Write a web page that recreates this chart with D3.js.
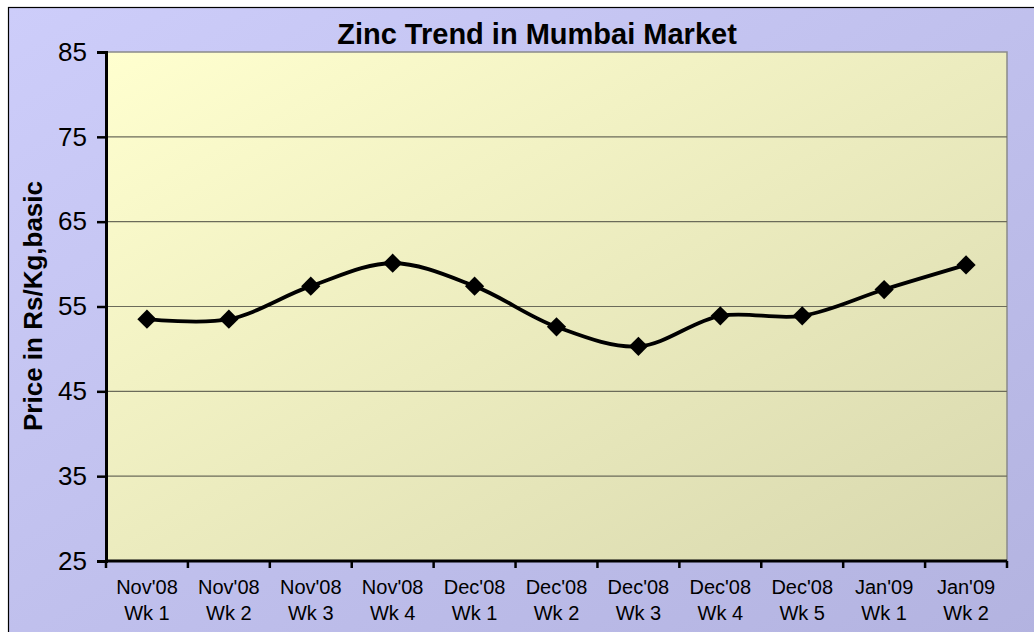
<!DOCTYPE html>
<html>
<head>
<meta charset="utf-8">
<script src="https://cdn.jsdelivr.net/npm/d3@7"></script>
<style>
  body { margin: 0; background: #fff; }
  svg { display: block; font-family: "Liberation Sans", Arial, sans-serif; }
</style>
</head>
<body>
<svg id="chart"></svg>
<script>
const months = ["Nov'08", "Nov'08", "Nov'08", "Nov'08", "Dec'08", "Dec'08", "Dec'08", "Dec'08", "Dec'08", "Jan'09", "Jan'09"]
const weeks = ["Wk 1", "Wk 2", "Wk 3", "Wk 4", "Wk 1", "Wk 2", "Wk 3", "Wk 4", "Wk 5", "Wk 1", "Wk 2"]
const prices = [53.5, 53.5, 57.4, 60.1, 57.4, 52.6, 50.3, 53.9, 53.9, 57.0, 59.9]
const yTicks = [25, 35, 45, 55, 65, 75, 85]

const W = 1034, H = 632
const margin = {top: 52, right: 27, bottom: 71, left: 106}
const width = W - margin.left - margin.right
const height = H - margin.top - margin.bottom

const data = prices.map((p, i) => ({i, p}))

const svg = d3.select('#chart').attr('width', W).attr('height', H)

const defs = svg.append('defs')
const bg = defs.append('linearGradient').attr('id', 'bg')
    .attr('x1', '0%').attr('y1', '0%').attr('x2', '100%').attr('y2', '100%')
bg.append('stop').attr('offset', '0%').attr('stop-color', '#cdcdfa')
bg.append('stop').attr('offset', '100%').attr('stop-color', '#b3b3e0')

const pg = defs.append('linearGradient').attr('id', 'plotbg')
    .attr('x1', '0%').attr('y1', '0%').attr('x2', '100%').attr('y2', '100%')
pg.append('stop').attr('offset', '0%').attr('stop-color', '#ffffcf')
pg.append('stop').attr('offset', '100%').attr('stop-color', '#d8d8ae')

// outer chart area
svg.append('rect')
    .attr('x', 8.5).attr('y', 7.5)
    .attr('width', W).attr('height', H)
    .attr('fill', 'url(#bg)')
    .attr('stroke', '#000').attr('stroke-width', 1.2)

const chart = svg.append('g')
    .attr('transform', `translate(${margin.left},${margin.top})`)

const xScale = d3.scaleBand()
    .domain(d3.range(prices.length))
    .range([0, width])

const yScale = d3.scaleLinear()
    .domain([25, 85])
    .range([height, 0])

chart.append('rect')
    .attr('width', width).attr('height', height)
    .attr('fill', 'url(#plotbg)')
    .attr('stroke', '#8a8a8a').attr('stroke-width', 1.5)

// gridlines
chart.append('g')
    .selectAll('line')
    .data(yTicks.slice(1, -1))
    .join('line')
    .attr('x1', 0).attr('x2', width)
    .attr('y1', d => yScale(d)).attr('y2', d => yScale(d))
    .attr('stroke', '#6b6b5a').attr('stroke-width', 1.2)

// y axis
const yAxis = d3.axisLeft(yScale).tickValues(yTicks).tickSize(9).tickPadding(10)
const yAxisG = chart.append('g').call(yAxis)
yAxisG.select('.domain').attr('stroke', '#000').attr('stroke-width', 3)
yAxisG.selectAll('.tick line').attr('stroke', '#000').attr('stroke-width', 2.5)
yAxisG.selectAll('.tick text')
    .attr('font-size', 26).attr('fill', '#000')
    .attr('font-family', '"Liberation Sans", Arial, sans-serif')

// x axis with ticks at band boundaries
const xAxisG = chart.append('g').attr('transform', `translate(0,${height})`)
xAxisG.append('line')
    .attr('x1', 0).attr('x2', width)
    .attr('stroke', '#000').attr('stroke-width', 3)
xAxisG.selectAll('.xtick')
    .data(d3.range(prices.length + 1))
    .join('line')
    .attr('class', 'xtick')
    .attr('x1', d => d * xScale.step()).attr('x2', d => d * xScale.step())
    .attr('y1', 0).attr('y2', 7)
    .attr('stroke', '#000').attr('stroke-width', 2.5)

const labels = xAxisG.selectAll('.xlabel')
    .data(data)
    .join('text')
    .attr('class', 'xlabel')
    .attr('text-anchor', 'middle')
    .attr('font-size', 20)
    .attr('fill', '#000')
labels.append('tspan')
    .attr('x', d => xScale(d.i) + xScale.bandwidth() / 2)
    .attr('y', 33)
    .text(d => months[d.i])
labels.append('tspan')
    .attr('x', d => xScale(d.i) + xScale.bandwidth() / 2)
    .attr('y', 59)
    .text(d => weeks[d.i])

// line
const line = d3.line()
    .x(d => xScale(d.i) + xScale.bandwidth() / 2)
    .y(d => yScale(d.p))
    .curve(d3.curveCatmullRom.alpha(0.5))

chart.append('path')
    .datum(data)
    .attr('fill', 'none')
    .attr('stroke', '#000')
    .attr('stroke-width', 3.8)
    .attr('d', line)

chart.selectAll('.marker')
    .data(data)
    .join('path')
    .attr('class', 'marker')
    .attr('d', d3.symbol(d3.symbolSquare, 185))
    .attr('transform', d => `translate(${xScale(d.i) + xScale.bandwidth() / 2},${yScale(d.p)}) rotate(45)`)
    .attr('fill', '#000')

// titles
svg.append('text')
    .attr('x', 537).attr('y', 44)
    .attr('text-anchor', 'middle')
    .attr('font-size', 29).attr('font-weight', 'bold')
    .text('Zinc Trend in Mumbai Market')

svg.append('text')
    .attr('transform', 'translate(42,306) rotate(-90)')
    .attr('text-anchor', 'middle')
    .attr('font-size', 26).attr('font-weight', 'bold')
    .text('Price in Rs/Kg,basic')
</script>
</body>
</html>
